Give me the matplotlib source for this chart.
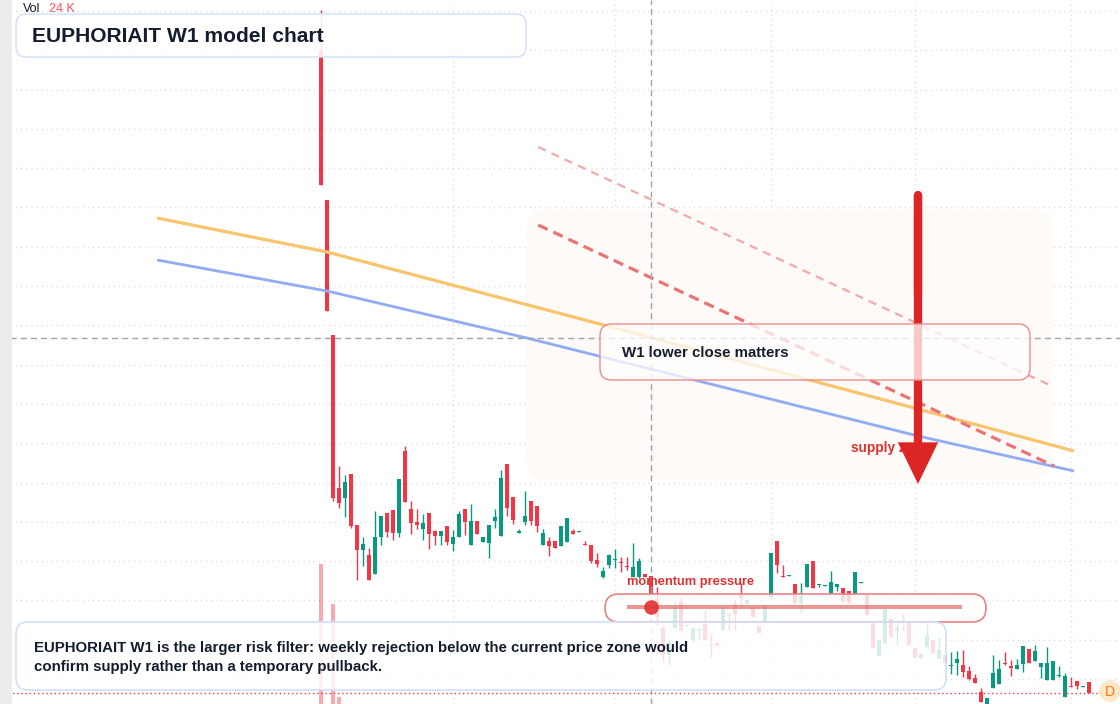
import numpy as np
import matplotlib
matplotlib.use("Agg")
import matplotlib.pyplot as plt
from matplotlib.patches import FancyBboxPatch, Rectangle, FancyArrowPatch, Circle
from matplotlib.transforms import Affine2D

plt.rcParams['font.family'] = ['Liberation Sans', 'DejaVu Sans']
plt.rcParams['lines.scale_dashes'] = False

# ---------------- data (weekly candles, price units) ----------------
opens = [.750, .600, .465, .312, .302, .326, .275, .250, .245, .226,
         .263, .287, .290, .267, .349, .291, .278, .271, .287, .269,
         .264, .274, .256, .263, .291, .255, .279, .258, .257, .279,
         .264, .336, .303, .267, .278, .299, .294, .255, .259, .259,
         .254, .258, .269, .268, .256, .255, .240, .223, .235, .240,
         .238, .234, .223, .223, .226, .224, .201, .172, .145, .172,
         .198, .174, .160, .170, .176, .155, .157, .170, .186, .196,
         .206, .196, .193, .174, .177, .203, .259, .224, .224, .216,
         .197, .213, .239, .215, .214, .207, .213, .212, .209, .206,
         .217, .206, .177, .144, .157, .181, .169, .171, .177, .152,
         .142, .153, .160, .141, .145, .134, .137, .135, .129, .122,
         .108, .093, .112, .116, .137, .134, .131, .136, .151, .139,
         .133, .120, .120, .124, .103, .114, .119, .113, .118]
highs = [.790, .600, .465, .334, .325, .326, .275, .263, .252, .289,
         .284, .287, .290, .321, .354, .299, .291, .286, .287, .270,
         .269, .274, .270, .289, .291, .296, .279, .263, .275, .291,
         .330, .336, .303, .271, .309, .299, .294, .271, .263, .259,
         .274, .282, .271, .269, .259, .255, .247, .233, .246, .251,
         .243, .243, .257, .242, .226, .224, .213, .174, .160, .198,
         .202, .175, .172, .171, .190, .167, .157, .193, .187, .201,
         .217, .200, .193, .174, .194, .247, .259, .235, .225, .216,
         .217, .236, .239, .216, .215, .229, .216, .212, .209, .228,
         .218, .206, .177, .160, .191, .181, .177, .187, .177, .152,
         .146, .176, .160, .163, .145, .148, .149, .150, .134, .126,
         .112, .102, .145, .140, .148, .140, .141, .154, .151, .155,
         .137, .153, .139, .134, .127, .123, .119, .114, .118]
lows = [.615, .489, .299, .292, .283, .272, .220, .234, .220, .226,
        .255, .263, .260, .263, .298, .266, .271, .260, .251, .255,
        .255, .255, .249, .263, .265, .255, .266, .258, .242, .272,
        .264, .284, .276, .267, .275, .275, .268, .255, .244, .252,
        .254, .258, .266, .268, .255, .237, .233, .222, .232, .232,
        .228, .230, .223, .222, .223, .206, .175, .138, .135, .172,
        .168, .174, .158, .160, .160, .143, .154, .170, .170, .170,
        .193, .196, .183, .167, .177, .202, .227, .223, .224, .197,
        .188, .213, .212, .213, .214, .207, .209, .198, .197, .206,
        .217, .185, .152, .144, .157, .163, .155, .170, .155, .142,
        .142, .153, .147, .141, .137, .126, .125, .123, .120, .117,
        .098, .090, .112, .116, .135, .124, .131, .128, .137, .139,
        .122, .120, .120, .123, .103, .113, .111, .113, .107]
closes = [.615, .489, .302, .297, .318, .274, .250, .256, .220, .263,
          .284, .268, .267, .321, .298, .277, .275, .277, .266, .264,
          .269, .258, .263, .286, .278, .279, .266, .263, .275, .283,
          .322, .292, .280, .269, .284, .279, .274, .267, .254, .252,
          .274, .282, .266, .269, .255, .239, .236, .229, .245, .241,
          .237, .233, .233, .239, .223, .206, .183, .145, .157, .192,
          .170, .175, .172, .171, .160, .154, .154, .193, .185, .186,
          .202, .200, .183, .167, .194, .247, .235, .223, .225, .197,
          .204, .236, .212, .216, .215, .218, .216, .198, .197, .228,
          .218, .185, .152, .160, .191, .163, .172, .170, .155, .142,
          .146, .165, .147, .150, .137, .135, .141, .128, .121, .117,
          .098, .102, .127, .131, .136, .132, .135, .154, .137, .149,
          .137, .137, .139, .125, .124, .113, .114, .114, .107]

volume_k = [5600, 15, 4000, 280]      # first weeks' volume (K); later weeks are negligible
last_volume_label = "24 K"

# overlay study lines (week index, price)
ema_fast_x = [-27.3, 1.0, 46.5, 99.5, 125.5]
ema_fast_y = [0.582, 0.548, 0.476, 0.391, 0.349]
ema_slow_x = [-27.3, 1.0, 34.3, 99.5, 125.5]
ema_slow_y = [0.540, 0.509, 0.462, 0.364, 0.329]
trend_main_x = [36.2, 122.2]
trend_main_y = [0.575, 0.334]
trend_outer_x = [36.2, 121.8]
trend_outer_y = [0.653, 0.414]
supply_zone_x = (34.3, 121.8)
supply_zone_y = (0.320, 0.590)
arrow_x = 99.5
arrow_y = (0.605, 0.316)
momentum_x = (51.0, 106.8)
momentum_y = 0.193
momentum_dot_x = 55.0
cross_x = 55
cross_y = 0.462
grid_weeks = [22, 49, 75, 99, 125]
grid_prices = list(np.arange(0.121, 0.80, 0.0393))

RED = '#f23645'
GREEN = '#089981'
TXT = '#131d2f'

W, H = 1120, 704
fig = plt.figure(figsize=(W / 100, H / 100), dpi=100)
ax = fig.add_axes([0, 0, 1, 1])
ax.set_xlim(-53.5, 133.17)
ax.set_ylim(0.096, 0.800)
for s in ax.spines.values():
    s.set_visible(False)
ax.set_xticks(grid_weeks)
ax.set_yticks(grid_prices)
ax.tick_params(length=0, labelbottom=False, labelleft=False)
ax.grid(True, color='#d9d9d9', lw=1.0, linestyle=(0, (0.8, 2.9)), zorder=0)
ax.set_axisbelow(True)

# pixel transform for layout boxes (origin top-left)
px = Affine2D().scale(1 / W, -1 / H).translate(0, 1) + fig.transFigure

# supply zone shading
zx0, zx1 = supply_zone_x
zy0, zy1 = supply_zone_y
zone = FancyBboxPatch((zx0, zy0), zx1 - zx0, zy1 - zy0,
                      boxstyle='round,pad=0,rounding_size=3.3', mutation_aspect=0.006,
                      fc='#fdfaf7', ec='none', zorder=1)
ax.add_patch(zone)

# volume overlay (scaled to bottom of pane)
vol_full = 28160.0
ymin, ymax = ax.get_ylim()
vidx = np.arange(len(volume_k))
vh = np.array(volume_k) / vol_full * (ymax - ymin)
vcol = [GREEN if closes[i] >= opens[i] else RED for i in vidx]
ax.bar(vidx, vh, bottom=ymin, width=0.8, color=vcol, alpha=0.42, lw=0, zorder=1.5)

# candles
o = np.array(opens); c = np.array(closes); h = np.array(highs); l = np.array(lows)
idx = np.arange(len(o))
cols = np.where(c >= o, GREEN, RED)
ax.vlines(idx, l, h, colors=cols, lw=1.0, zorder=2)
blo = np.minimum(o, c)
bh = np.maximum(np.abs(c - o), 0.0011)
ax.bar(idx, bh, bottom=blo, width=0.8, color=cols, lw=0, zorder=2.1)

# lines
ax.plot(ema_fast_x, ema_fast_y, color='#f9c46e', lw=2.3, zorder=3, solid_capstyle='butt')
ax.plot(ema_slow_x, ema_slow_y, color='#91acf2', lw=2.0, zorder=3, solid_capstyle='butt')
ax.plot(trend_outer_x, trend_outer_y, color='#f3a9a9', lw=1.6, ls=(0, (6.0, 4.5)), zorder=3)
ax.plot(trend_main_x, trend_main_y, color='#e97474', lw=2.3, ls=(0, (7.5, 4.5)), zorder=3)

# crosshair & price line
ax.axvline(cross_x, color='#a0a3ab', lw=1.0, ls=(0, (4.3, 3.0)), zorder=3.5)
ax.axhline(cross_y, color='#a0a3ab', lw=1.0, ls=(0, (4.3, 3.0)), zorder=3.5)
ax.axhline(closes[-1], color=RED, lw=1.0, ls=(0, (1.0, 2.0)), zorder=3.5)

# supply zone label and arrow
ax.text(88.3, 0.352, 'supply zone', color='#e03131', fontsize=9.8, fontweight='bold',
        va='center', ha='left', zorder=4)
ax.plot([arrow_x, arrow_x], [arrow_y[0], arrow_y[0] - 0.1], color='#dc2626', lw=6.0,
        solid_capstyle='round', zorder=4.5)
arr = FancyArrowPatch((arrow_x, arrow_y[0]), (arrow_x, arrow_y[1]),
                      arrowstyle='simple,head_length=3.0,head_width=2.9,tail_width=0.6',
                      mutation_scale=10, color='#dc2626', lw=0, shrinkA=0, shrinkB=0,
                      zorder=4.5)
ax.add_patch(arr)

# left strip
ax.add_patch(Rectangle((0, 0), 12, H, transform=px, fc='#ececec', ec='none', zorder=9))


def box(x0, y0, x1, y1, ec, r, alpha=0.82, lw=1.0, z=6):
    p = FancyBboxPatch((x0, y0), x1 - x0, y1 - y0, boxstyle=f'round,pad=0,rounding_size={r}',
                       transform=px, fc=(1, 1, 1, alpha), ec=ec, lw=lw, zorder=z)
    ax.add_patch(p)


# title box
box(16, 14, 526, 57, '#cfdff8', 10, alpha=0.88)
ax.text(32, 36, 'EUPHORIAIT W1 model chart', transform=px, fontsize=15.1, fontweight='bold',
        color=TXT, va='center', ha='left', zorder=7)

# W1 box
box(600, 324, 1030, 380, '#ea8e8e', 12, alpha=0.75)
ax.text(622, 353, 'W1 lower close matters', transform=px, fontsize=10.8, fontweight='bold',
        color=TXT, va='center', ha='left', zorder=7)

# momentum box
box(605, 594, 986, 622, '#e58383', 14, alpha=0.82, lw=1.2)
ax.plot(momentum_x, [momentum_y, momentum_y], color='#e25c5c', alpha=0.65, lw=2.9, zorder=7,
        solid_capstyle='butt')
ax.plot([momentum_dot_x], [momentum_y], 'o', ms=10.5, color='#e03131', alpha=0.9, mec='none', zorder=7.5)
ax.text(51.0, 0.218, 'momentum pressure', color='#e03131', fontsize=9.3, fontweight='bold',
        va='center', ha='left', zorder=7)

# bottom note box
box(16, 622, 946, 690, '#cfdff8', 12, alpha=0.84, lw=1.2)
ax.text(34, 657.5, 'EUPHORIAIT W1 is the larger risk filter: weekly rejection below the current price zone would\n'
        'confirm supply rather than a temporary pullback.', transform=px, fontsize=10.8,
        fontweight='bold', color=TXT, va='center', ha='left', linespacing=1.45, zorder=7)

# Vol label
ax.text(23, 9, 'Vol', transform=px, fontsize=9, color=TXT, va='center', ha='left', zorder=10)
ax.text(49, 9, last_volume_label, transform=px, fontsize=9, color='#f7525f', va='center',
        ha='left', zorder=10)

# D badge
ax.add_patch(Circle((1110, 691), 11, transform=px, fc='#fde6c6', ec='none', alpha=0.9, zorder=8))
ax.text(1110, 692, 'D', transform=px, fontsize=10, color='#f57c00', va='center', ha='center', zorder=9)

fig.savefig('out.png', dpi=100)
